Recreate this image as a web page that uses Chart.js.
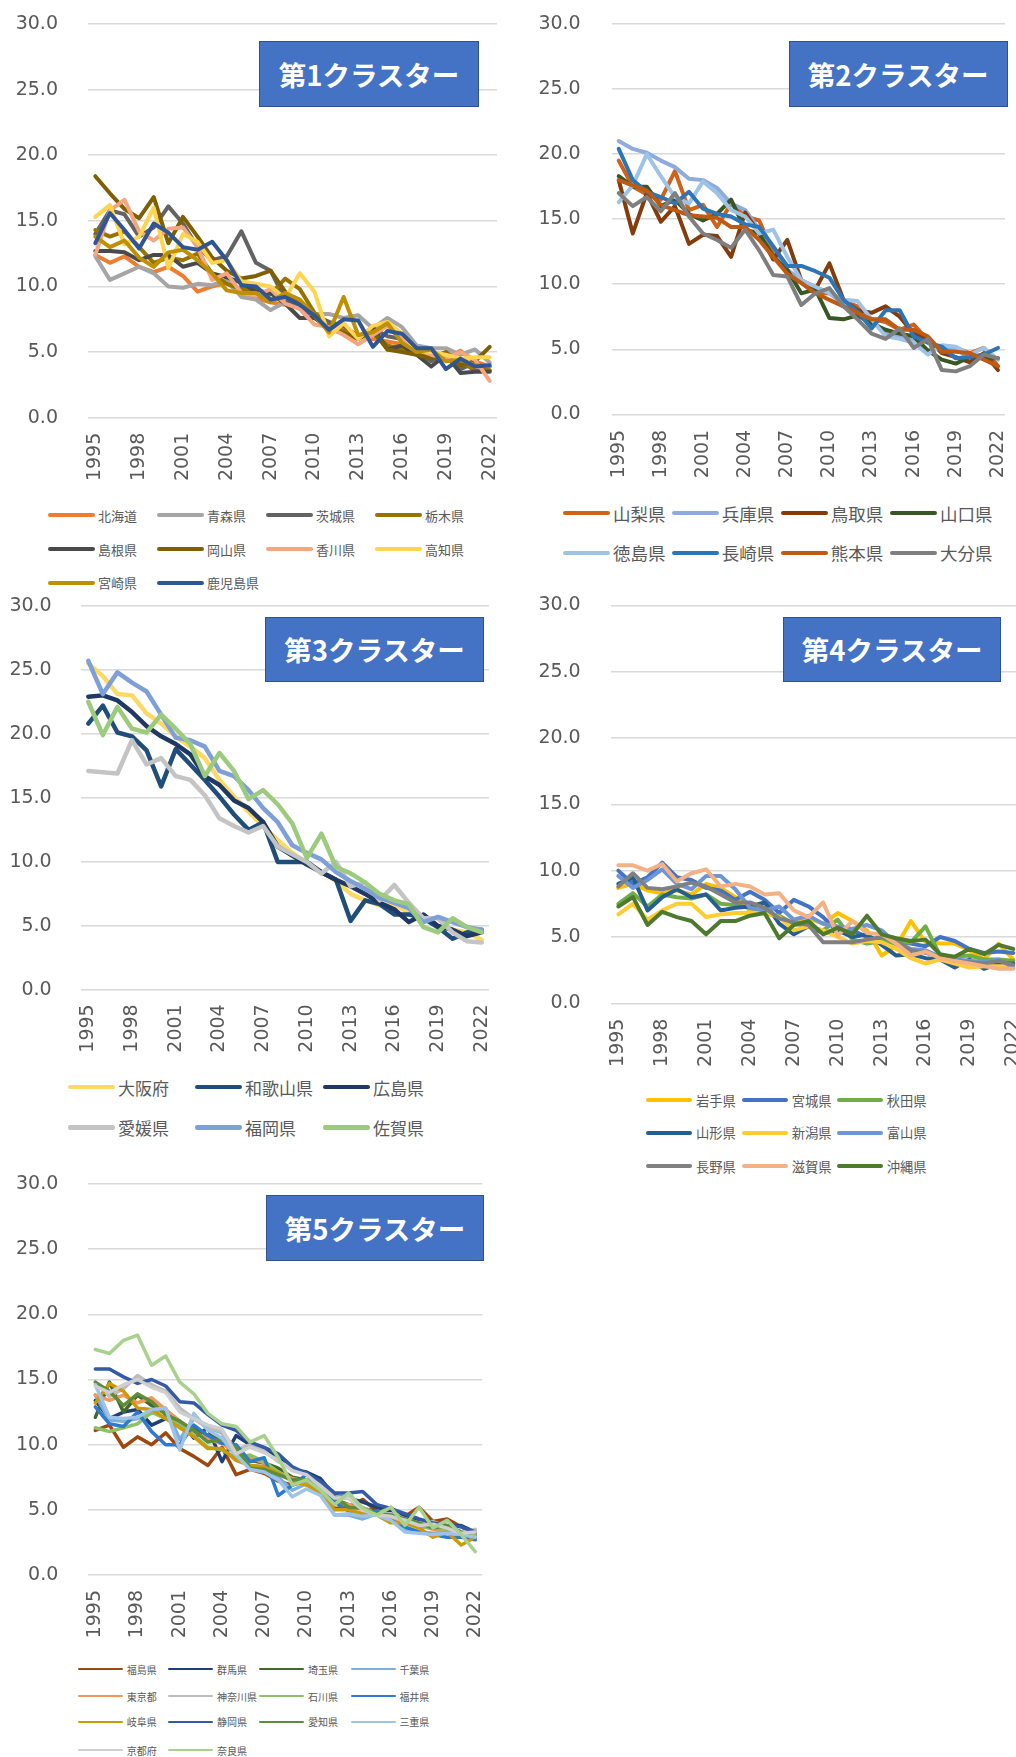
<!DOCTYPE html>
<html><head><meta charset="utf-8">
<script src="https://cdn.jsdelivr.net/npm/chart.js@4/dist/chart.umd.min.js"></script>
<style>
html,body{margin:0;padding:0;background:#fff;}
body{width:1016px;height:1757px;overflow:hidden;position:relative;}
canvas.cv{position:absolute;}
.title{position:absolute;background:#4472C4;border:1.5px solid #2F528F;box-sizing:border-box;color:#fff;font-weight:bold;font-size:27.5px;display:flex;align-items:center;justify-content:center;font-family:"Noto Sans CJK JP",sans-serif;white-space:nowrap;}
.leg{position:absolute;display:flex;align-items:center;color:#595959;white-space:nowrap;font-family:"Noto Sans CJK JP",sans-serif;height:40px;}
</style></head><body>
<script>
// ---------- categories / tick labels ----------
const years = ['1995','1996','1997','1998','1999','2000','2001','2002','2003','2004','2005','2006','2007','2008','2009','2010','2011','2012','2013','2014','2015','2016','2017','2018','2019','2020','2021','2022'];
const yTickLabels = ['0.0','5.0','10.0','15.0','20.0','25.0','30.0'];

// ---------- cluster 1 ----------
const c1Names = ['北海道','青森県','茨城県','栃木県','島根県','岡山県','香川県','高知県','宮崎県','鹿児島県'];
const c1Data = [
 [12.4,11.8,12.3,11.5,11.1,11.5,10.8,9.6,10.0,10.3,9.4,9.1,8.8,8.6,8.4,7.6,7.2,6.8,6.3,6.0,5.8,5.6,5.2,4.8,4.5,5.1,4.3,3.9],
 [12.3,10.5,11.0,11.5,11.0,10.0,9.9,10.2,10.1,10.5,9.2,9.0,8.2,8.8,8.4,7.9,7.9,7.6,7.8,6.8,7.6,6.9,5.5,5.3,5.3,4.8,5.2,4.2],
 [14.0,15.8,15.5,13.8,14.5,16.1,14.8,13.0,12.0,12.3,14.2,11.8,11.2,9.0,8.3,7.8,7.3,7.0,6.2,6.8,6.2,6.0,5.1,4.3,5.0,3.7,4.2,3.6],
 [14.3,13.8,14.2,13.0,11.8,12.2,12.0,12.5,11.0,10.2,9.8,9.8,9.4,10.6,9.8,8.0,7.0,6.6,6.1,6.4,5.5,5.2,4.9,4.6,5.0,4.3,3.6,3.6],
 [12.7,12.7,12.6,12.0,12.4,12.4,11.5,11.8,11.0,10.7,10.3,9.6,9.5,8.7,7.6,7.6,6.8,6.4,6.0,6.9,5.2,5.5,4.8,3.9,4.8,3.4,3.5,3.5],
 [18.4,17.1,15.9,15.2,16.8,13.3,15.3,13.8,12.2,11.2,10.6,10.8,11.2,9.6,8.6,7.8,6.8,6.4,6.0,6.6,5.2,5.0,4.8,4.5,4.9,4.0,4.3,5.4],
 [12.4,15.8,16.6,14.2,13.5,14.4,14.5,13.0,10.5,11.0,9.5,9.3,9.8,8.7,8.3,7.1,6.9,6.3,5.6,6.3,7.0,6.0,5.2,4.8,4.5,5.0,4.4,2.8],
 [15.3,16.2,13.2,13.8,16.0,11.4,14.0,13.4,11.8,12.0,10.4,10.2,10.0,9.1,11.0,9.6,6.2,7.2,6.0,7.0,7.3,6.4,5.1,5.0,4.8,4.5,4.6,4.6],
 [13.8,13.0,13.5,12.2,11.5,12.6,12.8,12.0,11.0,9.7,9.5,9.5,8.8,9.5,9.0,7.8,6.5,9.2,6.3,6.5,7.2,5.7,5.0,5.2,4.3,4.4,4.0,3.9],
 [13.3,15.6,14.3,12.9,14.8,14.1,13.0,12.8,13.4,12.0,10.1,10.0,9.0,9.2,8.6,7.8,6.7,7.5,7.4,5.4,6.6,6.4,5.3,5.3,3.7,4.5,3.9,4.0]
];
const c1Colors = ['#ED7D31','#A5A5A5','#636363','#997300','#4A4A4A','#7F6000','#F4A67E','#FFD44F','#BF9000','#2F5597'];

// ---------- cluster 2 ----------
const c2Names = ['山梨県','兵庫県','鳥取県','山口県','徳島県','長崎県','熊本県','大分県'];
const c2Data = [
 [19.5,17.5,16.9,16.5,18.7,15.7,16.1,14.4,16.2,15.2,14.9,12.4,10.8,10.1,9.3,9.3,8.7,8.3,7.3,7.1,6.5,6.9,5.7,4.9,5.1,4.7,5.1,3.7],
 [21.0,20.4,20.1,19.5,19.0,18.1,18.0,17.4,16.2,15.7,14.2,12.9,11.1,10.3,9.8,9.3,8.5,8.0,7.3,6.2,6.0,5.7,4.9,5.2,5.1,4.2,4.4,4.3],
 [18.0,13.9,17.0,14.8,16.0,13.1,13.8,13.7,12.1,15.5,13.9,11.9,13.4,10.3,9.6,11.6,8.8,8.0,7.8,8.3,7.5,6.2,5.8,4.7,4.4,4.0,4.7,3.4],
 [18.3,17.5,17.5,16.0,16.5,15.4,14.9,15.4,16.5,14.2,13.9,12.1,11.1,9.3,9.6,7.4,7.3,7.6,7.0,6.5,6.2,6.0,4.9,4.2,3.9,4.4,4.3,4.3],
 [16.3,17.6,20.0,18.3,16.7,16.2,17.9,17.0,15.7,15.2,13.9,14.2,12.1,10.3,9.8,9.3,8.8,8.7,7.3,6.0,5.8,5.5,4.6,5.3,5.2,4.6,5.1,4.2],
 [20.4,18.0,17.1,16.7,16.2,17.1,15.8,15.4,15.2,14.6,14.4,12.9,11.4,11.4,11.0,10.5,8.8,7.9,6.6,8.0,8.0,6.0,5.5,5.2,4.3,4.4,4.6,5.1],
 [18.0,17.6,17.2,16.1,15.7,15.3,15.2,15.1,14.4,14.4,13.4,12.1,10.8,10.1,9.3,8.8,8.3,7.8,7.3,7.3,6.5,6.5,6.0,4.8,4.8,4.7,4.2,3.7],
 [17.0,16.0,16.7,15.6,17.0,15.2,13.9,13.4,12.8,14.2,12.6,10.7,10.6,8.4,9.3,9.7,8.3,7.3,6.2,5.8,6.6,5.1,5.8,3.4,3.3,3.7,4.6,4.3]
];
const c2Colors = ['#D0621A','#8FAADC','#843C0C','#385723','#9DC3E6','#2E75B6','#BF5A14','#7F7F7F'];

// ---------- cluster 3 ----------
const c3Names = ['大阪府','和歌山県','広島県','愛媛県','福岡県','佐賀県'];
const c3Data = [
 [25.5,24.5,23.1,23.0,21.6,20.8,19.8,19.0,18.1,16.4,15.1,13.9,12.8,11.7,10.7,9.9,9.2,8.5,7.5,7.0,6.6,6.7,6.0,5.7,5.0,4.7,4.5,3.9],
 [20.8,22.2,20.1,19.8,18.7,15.9,18.8,17.6,16.4,15.1,13.7,12.5,13.1,10.0,10.0,10.0,9.2,8.6,5.4,7.0,6.7,5.9,5.9,5.6,4.9,4.0,4.5,4.7],
 [22.9,23.0,22.6,21.7,20.6,19.8,19.2,18.4,16.7,16.0,14.8,14.2,13.1,11.2,10.5,9.8,9.2,8.6,8.1,7.5,6.8,6.3,5.3,5.9,5.0,4.7,4.2,4.5],
 [17.1,17.0,16.9,19.5,17.6,18.1,16.7,16.4,15.2,13.4,12.8,12.3,12.8,11.2,10.6,10.0,9.1,10.0,8.1,8.4,7.0,8.2,6.8,5.6,5.6,4.5,3.8,3.7],
 [25.7,23.1,24.8,24.0,23.3,21.5,19.7,19.5,19.0,17.1,16.7,15.6,14.2,13.1,11.3,10.7,10.2,9.2,8.5,7.9,7.2,6.8,6.4,5.3,5.7,5.3,4.9,4.7],
 [22.5,19.9,22.1,20.4,20.1,21.5,20.4,19.2,16.7,18.5,17.1,14.9,15.6,14.5,13.0,10.3,12.2,9.6,9.1,8.4,7.5,7.0,6.7,4.9,4.5,5.6,4.9,4.5]
];
const c3Colors = ['#FFD966','#1F4E79','#203864','#C4C4C4','#7F9FD8','#9CCB7E'];

// ---------- cluster 4 ----------
const c4Names = ['岩手県','宮城県','秋田県','山形県','新潟県','富山県','長野県','滋賀県','沖縄県'];
const c4Data = [
 [8.7,9.0,8.5,8.3,8.5,8.2,9.0,8.7,8.0,7.0,6.8,6.5,6.0,6.4,6.0,6.8,6.2,5.5,3.6,4.3,6.2,4.6,4.5,4.5,4.0,3.3,4.5,3.3],
 [10.0,9.0,9.5,10.6,9.5,9.3,8.7,8.5,7.8,8.4,7.8,6.8,7.8,7.3,6.5,5.4,5.5,5.0,4.7,4.6,4.5,4.3,5.0,4.7,4.1,3.8,3.9,3.8],
 [7.5,8.3,7.3,8.2,8.0,7.9,8.2,7.5,7.4,7.2,6.8,6.6,6.0,5.8,5.5,6.3,4.8,4.5,4.7,4.5,4.6,5.8,3.6,3.5,3.6,3.3,3.3,3.2],
 [9.0,9.5,7.0,8.0,8.6,8.0,8.2,7.0,7.2,7.3,7.6,6.0,5.2,5.8,5.3,5.5,5.0,5.2,4.4,3.6,3.7,3.4,3.3,2.7,3.3,2.6,3.0,3.0],
 [6.7,7.5,6.3,7.0,7.5,7.5,6.5,6.7,6.8,6.8,6.9,6.5,5.5,5.8,5.5,5.0,4.5,4.7,4.6,4.1,3.4,3.0,3.3,3.0,2.7,2.8,2.8,2.8],
 [9.6,8.7,9.3,10.1,9.0,8.6,9.6,9.6,8.6,7.2,7.0,7.3,6.3,6.6,6.0,5.8,5.6,5.9,5.5,4.5,4.1,4.0,3.5,3.3,3.2,3.1,3.3,2.7],
 [8.8,9.8,8.7,8.6,8.8,9.1,8.8,8.2,7.6,7.6,7.2,6.4,6.1,5.9,4.6,4.6,4.6,4.8,5.0,4.7,4.0,3.8,3.5,3.2,3.1,3.0,3.2,2.9],
 [10.4,10.4,10.0,10.5,9.2,9.8,10.1,8.8,9.0,8.8,8.2,8.3,7.0,6.5,7.6,5.1,6.2,5.3,5.2,4.5,3.6,3.9,3.4,3.2,3.0,2.8,2.6,2.6],
 [7.3,8.0,5.9,6.9,6.5,6.2,5.2,6.2,6.2,6.6,6.8,4.9,5.9,6.2,5.2,5.7,5.2,6.6,5.2,4.9,4.7,4.8,3.7,3.5,4.1,3.7,4.4,4.1]
];
const c4Colors = ['#FFC000','#4472C4','#70AD47','#255E91','#FFCD33','#6E96D6','#808080','#F4B183','#4E7A2E'];

// ---------- cluster 5 ----------
const c5Names = ['福島県','群馬県','埼玉県','千葉県','東京都','神奈川県','石川県','福井県','岐阜県','静岡県','愛知県','三重県','京都府','奈良県'];
const c5Data = [
 [11.1,11.5,9.8,10.6,10.0,10.9,9.7,9.1,8.4,9.8,7.7,8.1,7.8,7.2,6.9,7.2,6.6,5.1,5.2,5.8,4.9,4.1,4.5,5.2,4.1,4.3,3.7,3.1],
 [13.4,12.0,12.5,12.7,11.5,12.0,11.8,10.5,11.3,8.7,10.7,10.0,9.6,9.1,8.1,7.9,7.4,6.1,5.9,5.6,5.2,4.9,4.6,4.2,4.0,3.7,3.8,3.3],
 [12.1,14.8,12.5,13.8,13.0,12.4,11.5,11.3,10.7,10.5,9.5,8.8,8.6,8.2,7.5,7.3,6.5,5.8,5.4,5.1,4.9,4.6,4.2,3.8,3.6,3.7,3.3,3.2],
 [13.8,11.9,11.8,12.0,12.4,12.8,10.4,12.0,11.3,10.9,9.2,8.4,8.3,7.5,6.5,7.0,6.3,4.6,4.6,4.3,4.7,4.3,3.5,3.3,3.2,3.3,3.2,3.3],
 [13.8,13.4,13.8,13.2,13.6,12.7,11.8,11.0,10.4,10.1,9.3,9.0,8.6,7.9,7.4,7.2,6.4,5.6,5.4,5.0,4.7,4.3,4.1,3.8,3.5,3.5,3.3,3.3],
 [14.8,13.7,14.3,15.3,14.6,14.1,12.8,12.0,11.3,11.0,9.6,10.0,9.5,8.7,8.2,7.8,6.9,6.0,5.9,5.2,4.7,4.7,4.3,4.0,4.1,3.7,3.3,3.5],
 [11.3,11.0,11.3,11.6,12.5,12.0,11.6,10.7,9.8,9.6,9.0,9.2,8.7,7.9,7.2,7.3,6.5,6.0,5.9,5.1,4.7,5.2,4.0,3.7,3.6,3.5,3.2,3.1],
 [12.9,11.6,11.4,12.5,11.0,10.0,10.0,11.5,10.7,10.1,10.0,8.7,9.0,6.1,6.9,7.7,6.6,5.6,4.9,4.6,4.9,4.2,3.7,3.3,3.1,2.9,2.9,2.7],
 [13.2,14.7,14.1,12.8,12.7,12.0,11.3,10.6,9.7,9.7,8.8,8.4,8.3,7.8,7.2,6.9,6.3,5.0,5.0,4.7,4.6,4.0,4.0,3.6,2.9,3.3,2.3,2.9],
 [15.8,15.8,15.2,14.7,15.0,14.5,13.3,13.2,12.3,11.5,11.1,10.2,9.8,9.3,8.3,7.8,7.2,6.3,6.3,6.4,5.4,5.1,4.7,4.3,4.0,3.8,3.7,3.3],
 [14.8,14.1,13.0,13.9,13.3,12.3,11.8,11.1,10.2,10.4,9.8,8.2,8.1,7.7,7.3,7.3,6.5,6.0,5.2,5.1,4.7,4.6,4.3,4.0,3.6,3.8,3.3,2.8],
 [14.6,12.1,12.0,12.1,12.7,12.8,9.6,12.4,11.1,10.5,9.2,8.1,7.9,7.3,6.0,6.6,6.1,4.6,4.7,4.5,4.6,4.2,3.3,3.2,3.1,3.2,3.1,2.9],
 [14.5,14.0,14.6,15.0,14.4,14.0,12.5,12.0,11.5,11.2,9.3,9.8,9.4,8.8,8.0,7.7,6.8,5.9,5.9,5.0,4.6,4.5,4.2,3.8,3.9,3.6,3.2,3.3],
 [17.3,17.0,18.0,18.4,16.1,16.8,14.8,13.9,12.4,11.6,11.4,10.2,10.7,9.0,6.9,7.3,6.5,5.4,6.3,5.1,4.6,5.2,3.8,5.2,3.6,4.2,3.1,1.8]
];
const c5Colors = ['#9E480E','#203F78','#43682B','#7CAFDD','#F4975A','#BDBDBD','#8CC168','#2E7AD0','#CC9A06','#3459A6','#5E8C3B','#9DC3E6','#CFCFCF','#A9D18E'];

// ---------- layout (positions / sizes / styles) ----------
const panels = [
 {names:c1Names, data:c1Data, colors:c1Colors, lw:4,
  cv:{x:0,y:4,w:512,h:480}, L:88,R:497,T:24,B:417.7, ypad:30, xpad:15,
  title:{x:259,y:41,w:220,h:66,text:'第1クラスター'},
  leg:{cols:[48,157,266,375], rows:[515,549,582.7], fs:13, len:47, th:4, gap:3}},
 {names:c2Names, data:c2Data, colors:c2Colors, lw:4,
  cv:{x:515,y:4,w:505,h:480}, L:611.7,R:1005,T:24,B:414.3, ypad:31, xpad:15.5,
  title:{x:788.7,y:41,w:219,h:65.7,text:'第2クラスター'},
  leg:{cols:[563,671.7,780.7,890], rows:[513.3,552.7], fs:17.5, len:47, th:4, gap:3}},
 {names:c3Names, data:c3Data, colors:c3Colors, lw:4.5,
  cv:{x:0,y:585,w:512,h:475}, L:81,R:489,T:605.7,B:990, ypad:29.3, xpad:14.3,
  title:{x:265,y:616.8,w:219,h:65.3,text:'第3クラスター'},
  leg:{cols:[68,195,323], rows:[1087.1,1127.5], fs:17, len:47, th:4.5, gap:3}},
 {names:c4Names, data:c4Data, colors:c4Colors, lw:4,
  cv:{x:515,y:585,w:520,h:490}, L:611,R:1020.6,T:605.3,B:1003.3, ypad:30.3, xpad:15.3,
  title:{x:783.3,y:616.8,w:217.7,h:65,text:'第4クラスター'},
  leg:{cols:[646,741.7,836.7], rows:[1100.1,1132.7,1166], fs:13.3, len:46, th:4, gap:4}},
 {names:c5Names, data:c5Data, colors:c5Colors, lw:3.5,
  cv:{x:0,y:1164,w:512,h:481}, L:88.3,R:482.3,T:1184,B:1575, ypad:30, xpad:15,
  title:{x:266,y:1195,w:218,h:66,text:'第5クラスター'},
  leg:{cols:[78,168.3,259.3,350.7], rows:[1669,1696,1721.7,1750], fs:10, len:45, th:2, gap:3.7}}
];

Chart.defaults.font.family = 'DejaVu Sans';

function drawPanel(p){
  const c = document.createElement('canvas');
  c.className = 'cv';
  c.width = p.cv.w; c.height = p.cv.h;
  c.style.left = p.cv.x + 'px'; c.style.top = p.cv.y + 'px';
  c.style.width = p.cv.w + 'px'; c.style.height = p.cv.h + 'px';
  document.body.appendChild(c);
  const n = p.names.length;
  const datasets = p.names.map((name,i)=>({
    label:name, data:p.data[i], borderColor:p.colors[i], backgroundColor:p.colors[i],
    borderWidth:p.lw, pointRadius:0, pointHoverRadius:0, tension:0, fill:false,
    borderJoinStyle:'round', borderCapStyle:'round', order:n-i
  }));
  new Chart(c, {
    type:'line',
    data:{labels:years, datasets},
    options:{
      responsive:false, animation:false, events:[],
      layout:{padding:{top:p.T-p.cv.y, right:p.cv.x+p.cv.w-p.R, left:0, bottom:0}},
      plugins:{legend:{display:false}, tooltip:{enabled:false}},
      scales:{
        x:{type:'category', offset:true,
           grid:{display:false, drawTicks:false}, border:{display:false},
           ticks:{autoSkip:false, minRotation:90, maxRotation:90, padding:p.xpad, color:'#595959',
                  font:{size:19},
                  callback:function(v,i){ return (i%3===0) ? this.getLabelForValue(v) : ''; }},
           afterFit:(s)=>{ s.height = p.cv.y + p.cv.h - p.B; s.paddingLeft = 0; s.paddingRight = 0; }},
        y:{min:0, max:30,
           grid:{color:'#D9D9D9', lineWidth:1.5, drawTicks:false}, border:{display:false},
           ticks:{stepSize:5, padding:p.ypad, color:'#595959', font:{size:19},
                  callback:(v)=> yTickLabels[Math.round(v/5)]},
           afterFit:(s)=>{ s.width = p.L - p.cv.x; s.paddingTop = 0; s.paddingBottom = 0; }}
      }
    }
  });
  const t = document.createElement('div');
  t.className = 'title';
  t.style.left = p.title.x+'px'; t.style.top = p.title.y+'px';
  t.style.width = p.title.w+'px'; t.style.height = p.title.h+'px';
  t.textContent = p.title.text;
  document.body.appendChild(t);
  const k = p.leg.cols.length;
  p.names.forEach((name,i)=>{
    const r = Math.floor(i/k), col = i%k;
    const d = document.createElement('div');
    d.className = 'leg';
    d.style.left = p.leg.cols[col]+'px';
    d.style.top = (p.leg.rows[r]-20)+'px';
    d.style.fontSize = p.leg.fs+'px';
    const ln = document.createElement('span');
    ln.style.cssText = 'display:inline-block;width:'+p.leg.len+'px;height:'+p.leg.th+'px;background:'+p.colors[i]+';border-radius:'+(p.leg.th/2)+'px;margin-right:'+p.leg.gap+'px;';
    const tx = document.createElement('span');
    tx.textContent = name;
    d.appendChild(ln); d.appendChild(tx);
    document.body.appendChild(d);
  });
}
panels.forEach(drawPanel);
</script>
</body></html>
